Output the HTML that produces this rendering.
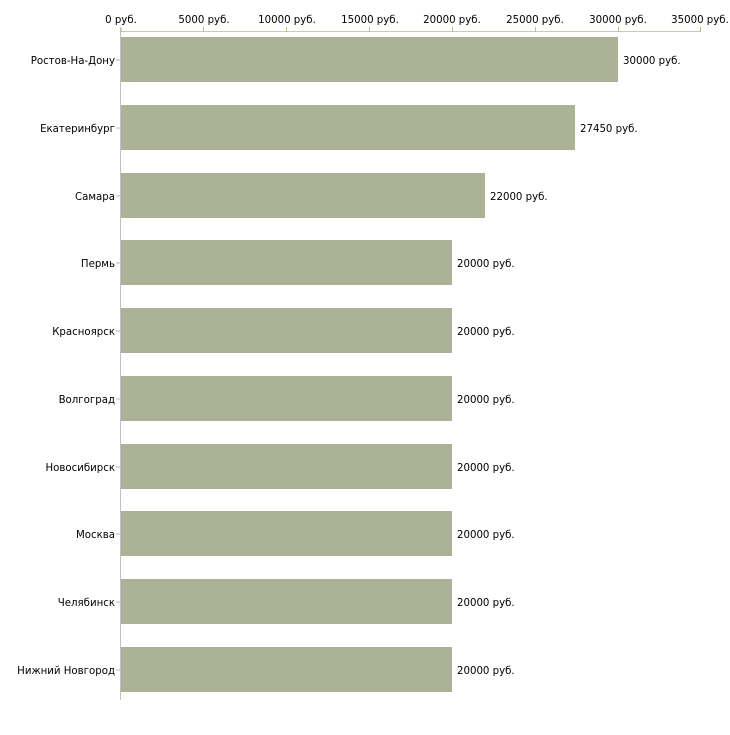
<!DOCTYPE html>
<html><head><meta charset="utf-8"><style>
html,body{margin:0;padding:0;background:#fff;}
svg text{font-family:"DejaVu Sans","Liberation Sans",sans-serif;font-size:10.2px;fill:#000;}
</style></head><body>
<svg width="730" height="730" viewBox="0 0 730 730" xmlns="http://www.w3.org/2000/svg">
<line x1="120" y1="31.5" x2="701" y2="31.5" stroke="#c8c9b8" stroke-width="1"/>
<line x1="120.5" y1="28" x2="120.5" y2="700" stroke="#c0c0c0" stroke-width="1"/>
<g stroke="#b8bc96" stroke-width="1">
<line x1="121" y1="27" x2="121" y2="32"/><line x1="203.5" y1="27" x2="203.5" y2="32"/>
<line x1="286.5" y1="27" x2="286.5" y2="32"/><line x1="369.5" y1="27" x2="369.5" y2="32"/>
<line x1="452.5" y1="27" x2="452.5" y2="32"/><line x1="535.5" y1="27" x2="535.5" y2="32"/>
<line x1="618.5" y1="27" x2="618.5" y2="32"/><line x1="700.5" y1="27" x2="700.5" y2="32"/>
</g>
<g text-anchor="middle">
<text x="121" y="23">0 руб.</text><text x="204" y="23">5000 руб.</text>
<text x="287" y="23">10000 руб.</text><text x="370" y="23">15000 руб.</text>
<text x="452" y="23">20000 руб.</text><text x="535" y="23">25000 руб.</text>
<text x="618" y="23">30000 руб.</text><text x="700" y="23">35000 руб.</text>
</g>
<g fill="#acb296">
<rect x="121" y="37" width="497" height="45"/>
<rect x="121" y="105" width="454" height="45"/>
<rect x="121" y="173" width="364" height="45"/>
<rect x="121" y="240" width="331" height="45"/>
<rect x="121" y="308" width="331" height="45"/>
<rect x="121" y="376" width="331" height="45"/>
<rect x="121" y="444" width="331" height="45"/>
<rect x="121" y="511" width="331" height="45"/>
<rect x="121" y="579" width="331" height="45"/>
<rect x="121" y="647" width="331" height="45"/>
</g>
<g stroke="#b8bc96">
<line x1="116" y1="60" x2="120" y2="60"/><line x1="116" y1="128" x2="120" y2="128"/>
<line x1="116" y1="196" x2="120" y2="196"/><line x1="116" y1="263" x2="120" y2="263"/>
<line x1="116" y1="331" x2="120" y2="331"/><line x1="116" y1="399" x2="120" y2="399"/>
<line x1="116" y1="467" x2="120" y2="467"/><line x1="116" y1="534" x2="120" y2="534"/>
<line x1="116" y1="602" x2="120" y2="602"/><line x1="116" y1="670" x2="120" y2="670"/>
</g>
<g text-anchor="end">
<text x="115" y="64">Ростов-На-Дону</text>
<text x="115" y="132">Екатеринбург</text>
<text x="115" y="200">Самара</text>
<text x="115" y="267">Пермь</text>
<text x="115" y="335">Красноярск</text>
<text x="115" y="403">Волгоград</text>
<text x="115" y="471">Новосибирск</text>
<text x="115" y="538">Москва</text>
<text x="115" y="606">Челябинск</text>
<text x="115" y="674">Нижний Новгород</text>
</g>
<g>
<text x="623" y="64">30000 руб.</text>
<text x="580" y="132">27450 руб.</text>
<text x="490" y="200">22000 руб.</text>
<text x="457" y="267">20000 руб.</text>
<text x="457" y="335">20000 руб.</text>
<text x="457" y="403">20000 руб.</text>
<text x="457" y="471">20000 руб.</text>
<text x="457" y="538">20000 руб.</text>
<text x="457" y="606">20000 руб.</text>
<text x="457" y="674">20000 руб.</text>
</g>
</svg>
</body></html>
